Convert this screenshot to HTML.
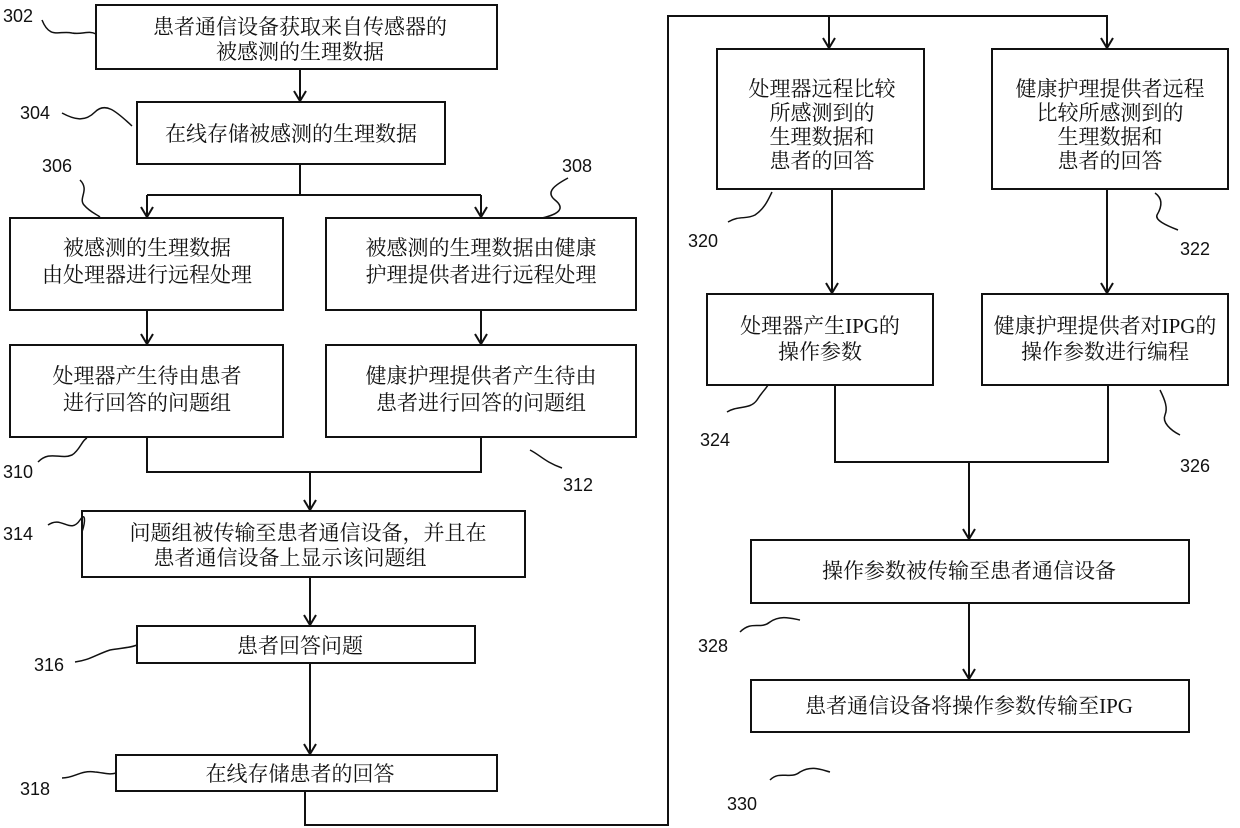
<!DOCTYPE html>
<html><head><meta charset="utf-8"><style>
html,body{margin:0;padding:0;background:#fff;}
svg{display:block}
text{font-family:"Liberation Serif","Noto Serif CJK SC",serif;font-size:21px;fill:#111;text-anchor:middle}
.n{font-family:"Liberation Sans","DejaVu Sans",sans-serif;font-size:18px;text-anchor:start}
</style></head><body>
<svg width="1240" height="828" viewBox="0 0 1240 828" xmlns="http://www.w3.org/2000/svg">
<defs><marker id="a" markerWidth="14" markerHeight="14" refX="12" refY="7" orient="auto" markerUnits="userSpaceOnUse"><path d="M2,1 L12,7 L2,13" fill="none" stroke="#111" stroke-width="2"/></marker></defs>
<g fill="none" stroke="#111" stroke-width="2">
<rect x="96" y="5" width="401" height="64"/>
<rect x="137" y="102" width="308" height="62"/>
<rect x="10" y="218" width="273" height="92"/>
<rect x="326" y="218" width="310" height="92"/>
<rect x="10" y="345" width="273" height="92"/>
<rect x="326" y="345" width="310" height="92"/>
<rect x="82" y="511" width="443" height="66"/>
<rect x="137" y="626" width="338" height="37"/>
<rect x="116" y="755" width="381" height="36"/>
<rect x="717" y="49" width="207" height="140"/>
<rect x="992" y="49" width="236" height="140"/>
<rect x="707" y="294" width="226" height="91"/>
<rect x="982" y="294" width="246" height="91"/>
<rect x="751" y="540" width="438" height="63"/>
<rect x="751" y="680" width="438" height="52"/>
<path d="M300 69 V101" marker-end="url(#a)"/>
<path d="M300 164 V195 M147 195 H481" />
<path d="M147 195 V217" marker-end="url(#a)"/><path d="M481 195 V217" marker-end="url(#a)"/>
<path d="M147 310 V344" marker-end="url(#a)"/><path d="M481 310 V344" marker-end="url(#a)"/>
<path d="M147 437 V472 H481 V437"/>
<path d="M310 472 V510" marker-end="url(#a)"/>
<path d="M310 577 V625" marker-end="url(#a)"/>
<path d="M310 663 V754" marker-end="url(#a)"/>
<path d="M305 791 V825 H668 V16 H1107 V48" marker-end="url(#a)"/>
<path d="M829 16 V48" marker-end="url(#a)"/>
<path d="M832 189 V293" marker-end="url(#a)"/>
<path d="M1107 189 V293" marker-end="url(#a)"/>
<path d="M835 385 V462 H1108 V385"/>
<path d="M969 462 V539" marker-end="url(#a)"/>
<path d="M969 603 V679" marker-end="url(#a)"/>
<g stroke-width="1.5">
<path d="M42 20 C50 40,60 30,72 33 C82 35,88 30,96 34"/>
<path d="M62 113 C75 120,85 122,95 112 C105 102,115 110,132 126"/>
<path d="M80 180 C90 190,78 198,84 205 C90 212,96 214,100 217"/>
<path d="M568 178 C555 185,545 192,555 200 C565 208,560 214,542 218"/>
<path d="M38 462 C50 450,60 460,72 455 C80 450,82 440,87 438"/>
<path d="M530 450 C540 455,545 462,562 468"/>
<path d="M48 525 C62 515,70 535,80 520 C85 512,86 520,82 532"/>
<path d="M75 662 C90 660,95 655,110 650 C120 648,130 648,137 645"/>
<path d="M62 778 C75 778,80 770,95 772 C105 773,110 775,116 773"/>
<path d="M728 222 C740 215,745 220,755 215 C765 208,768 200,772 192"/>
<path d="M1155 193 C1165 200,1160 210,1157 215 C1155 220,1165 225,1178 230"/>
<path d="M727 412 C738 405,750 410,757 400 C762 392,765 390,768 385"/>
<path d="M1160 390 C1165 400,1168 408,1165 415 C1162 422,1170 430,1180 435"/>
<path d="M740 632 C752 620,760 630,770 622 C780 615,790 618,800 620"/>
<path d="M770 780 C780 770,790 780,800 772 C812 765,822 770,830 772"/>
</g>
</g>
<text class="n" x="3" y="22">302</text>
<text class="n" x="20" y="119">304</text>
<text class="n" x="42" y="172">306</text>
<text class="n" x="562" y="172">308</text>
<text class="n" x="3" y="478">310</text>
<text class="n" x="563" y="491">312</text>
<text class="n" x="3" y="540">314</text>
<text class="n" x="34" y="671">316</text>
<text class="n" x="20" y="795">318</text>
<text class="n" x="688" y="247">320</text>
<text class="n" x="1180" y="255">322</text>
<text class="n" x="700" y="446">324</text>
<text class="n" x="1180" y="472">326</text>
<text class="n" x="698" y="652">328</text>
<text class="n" x="727" y="810">330</text>
<text x="300" y="34">患者通信设备获取来自传感器的</text>
<text x="300" y="59">被感测的生理数据</text>
<text x="291" y="141">在线存储被感测的生理数据</text>
<text x="147" y="255">被感测的生理数据</text>
<text x="147" y="282">由处理器进行远程处理</text>
<text x="481" y="255">被感测的生理数据由健康</text>
<text x="481" y="282">护理提供者进行远程处理</text>
<text x="147" y="383">处理器产生待由患者</text>
<text x="147" y="410">进行回答的问题组</text>
<text x="481" y="383">健康护理提供者产生待由</text>
<text x="481" y="410">患者进行回答的问题组</text>
<text x="308" y="540">问题组被传输至患者通信设备，并且在</text>
<text x="290" y="565">患者通信设备上显示该问题组</text>
<text x="300" y="653">患者回答问题</text>
<text x="300" y="781">在线存储患者的回答</text>
<text x="822" y="96">处理器远程比较</text>
<text x="822" y="120">所感测到的</text>
<text x="822" y="144">生理数据和</text>
<text x="822" y="168">患者的回答</text>
<text x="1110" y="96">健康护理提供者远程</text>
<text x="1110" y="120">比较所感测到的</text>
<text x="1110" y="144">生理数据和</text>
<text x="1110" y="168">患者的回答</text>
<text x="820" y="333">处理器产生IPG的</text>
<text x="820" y="359">操作参数</text>
<text x="1105" y="333">健康护理提供者对IPG的</text>
<text x="1105" y="359">操作参数进行编程</text>
<text x="969" y="578">操作参数被传输至患者通信设备</text>
<text x="969" y="713">患者通信设备将操作参数传输至IPG</text>
</svg>
</body></html>
